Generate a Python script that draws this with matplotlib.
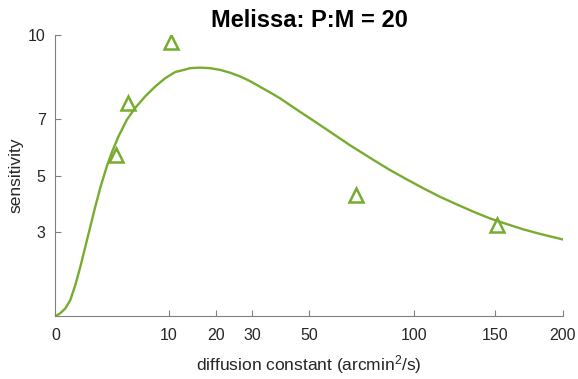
import matplotlib
matplotlib.use("Agg")
import matplotlib.pyplot as plt
import numpy as np

plt.rcParams["font.family"] = ["Liberation Sans", "DejaVu Sans"]
plt.rcParams["mathtext.default"] = "regular"

# measured sensitivity per diffusion constant
d_meas = [2.84, 4.12, 10.4, 70.1, 151.6]
s_meas = [5.72, 7.58, 9.76, 4.30, 3.26]

# model fit, sampled along the curve
d_fit = [0, 0.019, 0.078, 0.175, 0.310, 0.485, 0.698, 0.951, 1.24, 1.57,
         2.05, 2.47, 3.08, 3.96, 4.93, 6.24, 7.71, 9.34, 11.12, 13.05,
         14.08, 16.25, 18.57, 21.05, 23.68, 26.47, 29.42, 32.51, 35.77,
         39.18, 42.74, 46.46, 53.0, 60.0, 67.4, 78.5, 86.9, 95.8,
         105.1, 114.8, 125.0, 135.6, 146.6, 158.1, 170.0, 182.3, 200.0]
s_fit = [0, 0.11, 0.28, 0.58, 1.11, 1.76, 2.47, 3.19, 3.90, 4.57,
         5.32, 5.82, 6.38, 6.98, 7.40, 7.81, 8.16, 8.46, 8.68, 8.77,
         8.82, 8.84, 8.82, 8.76, 8.66, 8.53, 8.36, 8.16, 7.96,
         7.75, 7.51, 7.27, 6.88, 6.48, 6.08, 5.56, 5.20, 4.87,
         4.55, 4.25, 3.98, 3.72, 3.48, 3.28, 3.09, 2.93, 2.73]

xticks = [0, 10, 20, 30, 50, 100, 150, 200]
yticks = [3, 5, 7, 10]

green = "#77AC30"
axis_grey = "#808080"
text_grey = "#262626"

fig = plt.figure(figsize=(5.78, 3.79), dpi=100)
ax = fig.add_axes([0.0957, 0.1654, 0.8783, 0.7423])

ax.plot(d_fit, s_fit, color=green, linewidth=1.7)
ax.plot(d_meas, s_meas, linestyle="none", marker="^", markersize=10.5,
        markerfacecolor="none", markeredgecolor=green, markeredgewidth=1.8)

# square-root scaled x axis
ax.set_xscale("function", functions=(lambda x: np.sqrt(np.clip(x, 0, None)),
                                     lambda x: np.square(x)))
ax.set_xlim(0, 200)
ax.set_ylim(0, 10)
ax.set_xticks(xticks)
ax.set_xticklabels([str(t) for t in xticks])
ax.set_yticks(yticks)
ax.set_yticklabels([str(t) for t in yticks])
ax.minorticks_off()

for side in ["top", "right"]:
    ax.spines[side].set_visible(False)
for side in ["left", "bottom"]:
    ax.spines[side].set_color(axis_grey)
    ax.spines[side].set_linewidth(0.8)
ax.tick_params(direction="in", length=4, width=0.8, color=axis_grey,
               labelcolor=text_grey, labelsize=11.5, pad=7)
ax.tick_params(axis="x", pad=8.5)

ax.set_xlabel("diffusion constant (arcmin$^2$/s)", fontsize=12.5,
              color=text_grey, labelpad=7)
ax.set_ylabel("sensitivity", fontsize=12.5, color=text_grey, labelpad=3)
ax.set_title("Melissa: P:M = 20", fontsize=17, fontweight="bold", pad=6)

fig.savefig("out.png", dpi=100)
